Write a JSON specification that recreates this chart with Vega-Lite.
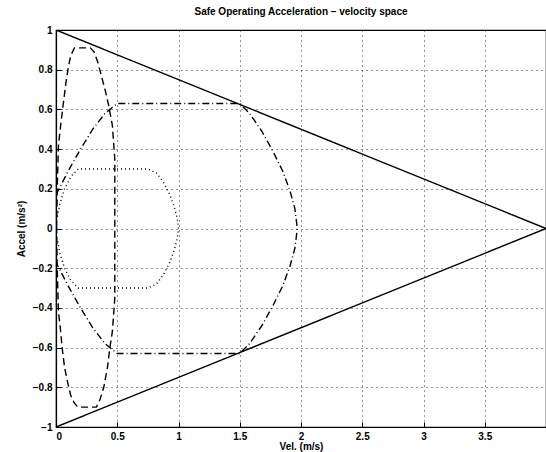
{
  "$schema": "https://vega.github.io/schema/vega-lite/v6.json",
  "width": 490,
  "height": 397,
  "autosize": {"type": "none"},
  "padding": {"left": 56, "top": 30, "right": 0, "bottom": 25},
  "title": {"text": "Safe Operating Acceleration – velocity space", "fontSize": 10, "font": "Liberation Sans", "fontWeight": "bold", "color": "black", "offset": 8, "anchor": "middle"},
  "config": {
    "view": {"stroke": "black", "strokeWidth": 1.2},
    "axis": {
      "grid": true, "gridColor": "black", "gridDash": [1, 4], "gridOpacity": 0.85, "gridWidth": 1,
      "domainColor": "black", "domainWidth": 1.2, "tickColor": "black", "tickSize": -5, "tickWidth": 1,
      "labelFont": "Liberation Sans", "labelFontSize": 10, "labelColor": "black", "labelFontWeight": "bold",
      "titleFont": "Liberation Sans", "titleFontSize": 10, "titleColor": "black", "titleFontWeight": "bold",
      "labelPadding": 9
    }
  },
  "data": {"values": [
    {"s": "solid", "i": 0, "x": 0, "y": 1},
    {"s": "solid", "i": 1, "x": 4, "y": 0},
    {"s": "solid", "i": 2, "x": 0, "y": -1},
    {"s": "dashed", "i": 0, "x": 0.005, "y": 0},
    {"s": "dashed", "i": 1, "x": 0.01, "y": 0.2},
    {"s": "dashed", "i": 2, "x": 0.02, "y": 0.42},
    {"s": "dashed", "i": 3, "x": 0.04, "y": 0.53},
    {"s": "dashed", "i": 4, "x": 0.06, "y": 0.63},
    {"s": "dashed", "i": 5, "x": 0.08, "y": 0.73},
    {"s": "dashed", "i": 6, "x": 0.1, "y": 0.81},
    {"s": "dashed", "i": 7, "x": 0.12, "y": 0.87},
    {"s": "dashed", "i": 8, "x": 0.15, "y": 0.91},
    {"s": "dashed", "i": 9, "x": 0.28, "y": 0.91},
    {"s": "dashed", "i": 10, "x": 0.31, "y": 0.89},
    {"s": "dashed", "i": 11, "x": 0.34, "y": 0.84},
    {"s": "dashed", "i": 12, "x": 0.37, "y": 0.77},
    {"s": "dashed", "i": 13, "x": 0.4, "y": 0.7},
    {"s": "dashed", "i": 14, "x": 0.43, "y": 0.62},
    {"s": "dashed", "i": 15, "x": 0.46, "y": 0.52},
    {"s": "dashed", "i": 16, "x": 0.48, "y": 0.35},
    {"s": "dashed", "i": 17, "x": 0.48, "y": 0},
    {"s": "dashed", "i": 18, "x": 0.48, "y": -0.35},
    {"s": "dashed", "i": 19, "x": 0.46, "y": -0.52},
    {"s": "dashed", "i": 20, "x": 0.44, "y": -0.6},
    {"s": "dashed", "i": 21, "x": 0.42, "y": -0.7},
    {"s": "dashed", "i": 22, "x": 0.39, "y": -0.8},
    {"s": "dashed", "i": 23, "x": 0.36, "y": -0.86},
    {"s": "dashed", "i": 24, "x": 0.33, "y": -0.9},
    {"s": "dashed", "i": 25, "x": 0.18, "y": -0.9},
    {"s": "dashed", "i": 26, "x": 0.15, "y": -0.88},
    {"s": "dashed", "i": 27, "x": 0.12, "y": -0.84},
    {"s": "dashed", "i": 28, "x": 0.1, "y": -0.79},
    {"s": "dashed", "i": 29, "x": 0.07, "y": -0.7},
    {"s": "dashed", "i": 30, "x": 0.05, "y": -0.6},
    {"s": "dashed", "i": 31, "x": 0.035, "y": -0.5},
    {"s": "dashed", "i": 32, "x": 0.02, "y": -0.42},
    {"s": "dashed", "i": 33, "x": 0.01, "y": -0.2},
    {"s": "dashed", "i": 34, "x": 0.005, "y": 0},
    {"s": "dashdot", "i": 0, "x": 0, "y": 0.17},
    {"s": "dashdot", "i": 1, "x": 0.1, "y": 0.29},
    {"s": "dashdot", "i": 2, "x": 0.2, "y": 0.4},
    {"s": "dashdot", "i": 3, "x": 0.3, "y": 0.5},
    {"s": "dashdot", "i": 4, "x": 0.4, "y": 0.58},
    {"s": "dashdot", "i": 5, "x": 0.5, "y": 0.63},
    {"s": "dashdot", "i": 6, "x": 1.5, "y": 0.63},
    {"s": "dashdot", "i": 7, "x": 1.58, "y": 0.58},
    {"s": "dashdot", "i": 8, "x": 1.68, "y": 0.49},
    {"s": "dashdot", "i": 9, "x": 1.77, "y": 0.39},
    {"s": "dashdot", "i": 10, "x": 1.85, "y": 0.29},
    {"s": "dashdot", "i": 11, "x": 1.91, "y": 0.19},
    {"s": "dashdot", "i": 12, "x": 1.95, "y": 0.1},
    {"s": "dashdot", "i": 13, "x": 1.97, "y": 0},
    {"s": "dashdot", "i": 14, "x": 1.95, "y": -0.1},
    {"s": "dashdot", "i": 15, "x": 1.91, "y": -0.19},
    {"s": "dashdot", "i": 16, "x": 1.85, "y": -0.29},
    {"s": "dashdot", "i": 17, "x": 1.77, "y": -0.39},
    {"s": "dashdot", "i": 18, "x": 1.68, "y": -0.49},
    {"s": "dashdot", "i": 19, "x": 1.58, "y": -0.58},
    {"s": "dashdot", "i": 20, "x": 1.5, "y": -0.63},
    {"s": "dashdot", "i": 21, "x": 0.5, "y": -0.63},
    {"s": "dashdot", "i": 22, "x": 0.4, "y": -0.58},
    {"s": "dashdot", "i": 23, "x": 0.3, "y": -0.5},
    {"s": "dashdot", "i": 24, "x": 0.2, "y": -0.4},
    {"s": "dashdot", "i": 25, "x": 0.1, "y": -0.29},
    {"s": "dashdot", "i": 26, "x": 0, "y": -0.17},
    {"s": "dotted", "i": 0, "x": 0, "y": 0.02},
    {"s": "dotted", "i": 1, "x": 0.03, "y": 0.12},
    {"s": "dotted", "i": 2, "x": 0.07, "y": 0.2},
    {"s": "dotted", "i": 3, "x": 0.12, "y": 0.26},
    {"s": "dotted", "i": 4, "x": 0.18, "y": 0.3},
    {"s": "dotted", "i": 5, "x": 0.75, "y": 0.3},
    {"s": "dotted", "i": 6, "x": 0.82, "y": 0.28},
    {"s": "dotted", "i": 7, "x": 0.88, "y": 0.23},
    {"s": "dotted", "i": 8, "x": 0.93, "y": 0.17},
    {"s": "dotted", "i": 9, "x": 0.97, "y": 0.1},
    {"s": "dotted", "i": 10, "x": 0.99, "y": 0.05},
    {"s": "dotted", "i": 11, "x": 1.0, "y": 0},
    {"s": "dotted", "i": 12, "x": 0.99, "y": -0.05},
    {"s": "dotted", "i": 13, "x": 0.97, "y": -0.1},
    {"s": "dotted", "i": 14, "x": 0.93, "y": -0.17},
    {"s": "dotted", "i": 15, "x": 0.88, "y": -0.23},
    {"s": "dotted", "i": 16, "x": 0.82, "y": -0.28},
    {"s": "dotted", "i": 17, "x": 0.75, "y": -0.3},
    {"s": "dotted", "i": 18, "x": 0.18, "y": -0.3},
    {"s": "dotted", "i": 19, "x": 0.12, "y": -0.26},
    {"s": "dotted", "i": 20, "x": 0.07, "y": -0.2},
    {"s": "dotted", "i": 21, "x": 0.03, "y": -0.12},
    {"s": "dotted", "i": 22, "x": 0, "y": -0.02}
  ]},
  "mark": {"type": "line", "color": "black", "strokeWidth": 1.4, "clip": true},
  "encoding": {
    "x": {"field": "x", "type": "quantitative", "scale": {"domain": [0, 4], "nice": false, "zero": false},
      "axis": {"values": [0, 0.5, 1, 1.5, 2, 2.5, 3, 3.5], "format": "~g", "title": "Vel. (m/s)", "titlePadding": 0}},
    "y": {"field": "y", "type": "quantitative", "scale": {"domain": [-1, 1], "nice": false},
      "axis": {"values": [-1, -0.8, -0.6, -0.4, -0.2, 0, 0.2, 0.4, 0.6, 0.8, 1], "format": "~g", "title": "Accel (m/s²)", "titlePadding": 6}},
    "detail": {"field": "s"},
    "order": {"field": "i", "type": "quantitative"},
    "strokeDash": {"field": "s", "type": "nominal", "legend": null,
      "scale": {"domain": ["solid", "dashed", "dashdot", "dotted"], "range": [[1, 0], [7, 4], [7, 3, 1, 3], [1, 3]]}}
  }
}
